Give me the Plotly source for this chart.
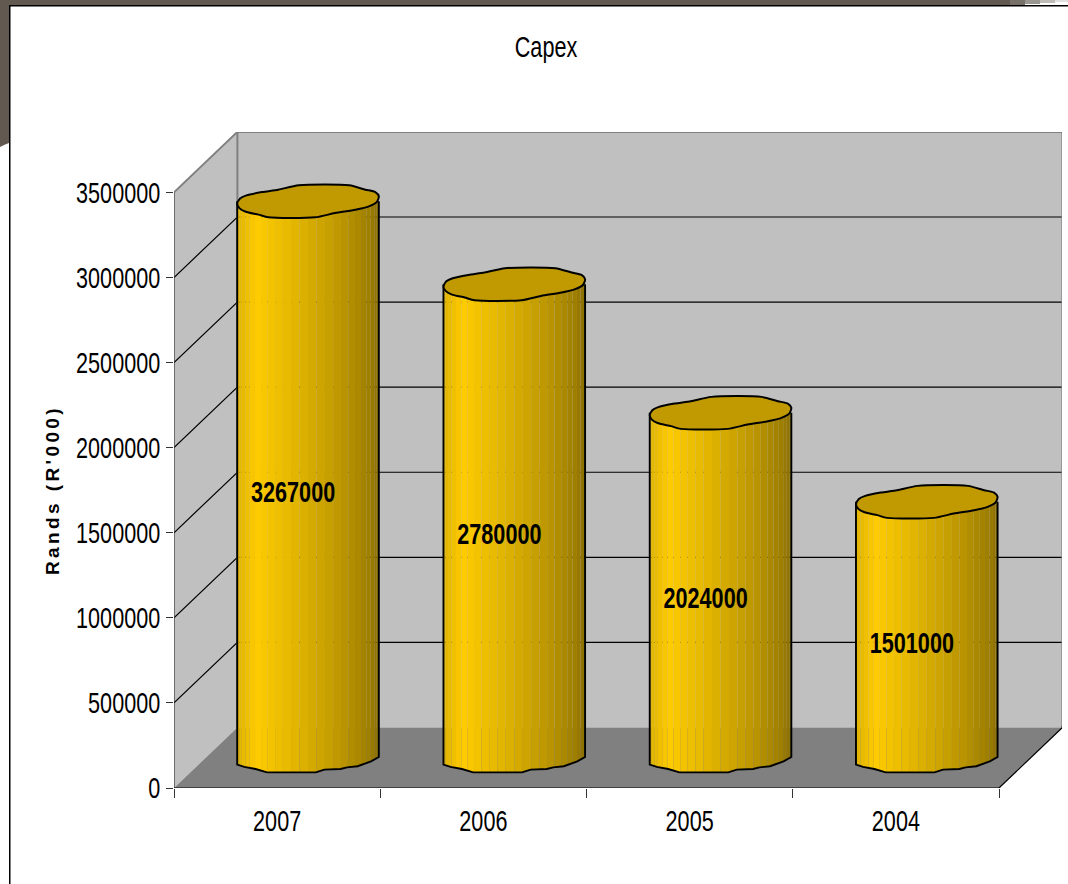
import numpy as np
import plotly.graph_objects as go

# ---- chart data -------------------------------------------------------
years = ["2007", "2006", "2005", "2004"]
capex = [3267000, 2780000, 2024000, 1501000]
y_ticks = [0, 500000, 1000000, 1500000, 2000000, 2500000, 3000000, 3500000]
title_text = "Capex"
y_title = "Rands (R'000)"

# ---- geometry of the pseudo-3D box ------------------------------------
W, H = 1068, 884
L, R, T, B = 174, 1062, 132, 788          # plot area in page pixels
PX_X = 1 / 206.25                         # category units per pixel
PX_Y = 3500000 / 595.6                    # value units per pixel
DEPTH_X, DEPTH_Y = 63.4 * PX_X, 60.5 * PX_Y
YMAX = y_ticks[-1]
N = len(years)

FONT = "Liberation Sans, Arial, sans-serif"
FSIZE = 29
BLACK = "#000000"
fig = go.Figure()


def poly(xs, ys, fill, line=None, width=0, shape="linear"):
    fig.add_trace(go.Scatter(
        x=xs, y=ys, mode="lines", fill="toself", fillcolor=fill,
        line=dict(color=line or fill, width=width, shape=shape, smoothing=0.7), hoverinfo="skip",
        showlegend=False, cliponaxis=False))


def path(xs, ys, color=BLACK, width=1.0, shape="linear"):
    fig.add_trace(go.Scatter(
        x=xs, y=ys, mode="lines", line=dict(color=color, width=width, shape=shape, smoothing=0.5),
        hoverinfo="skip", showlegend=False, cliponaxis=False))


# walls and floor
poly([0, DEPTH_X, DEPTH_X, 0, 0], [0, DEPTH_Y, YMAX + DEPTH_Y, YMAX, 0], "#c0c0c0")
poly([DEPTH_X, N + DEPTH_X, N + DEPTH_X, DEPTH_X, DEPTH_X],
     [DEPTH_Y, DEPTH_Y, YMAX + DEPTH_Y, YMAX + DEPTH_Y, DEPTH_Y], "#c0c0c0")
poly([0, N, N + DEPTH_X, DEPTH_X, 0], [0, 0, DEPTH_Y, DEPTH_Y, 0], "#808080")

# gridlines on both walls
for v in y_ticks[1:-1]:
    path([0, DEPTH_X, N + DEPTH_X], [v, v + DEPTH_Y, v + DEPTH_Y], BLACK, 1.2)

# wall outlines
path([0, DEPTH_X, N + DEPTH_X, N + DEPTH_X], [YMAX, YMAX + DEPTH_Y, YMAX + DEPTH_Y, DEPTH_Y], "#808080", 2)
path([DEPTH_X, DEPTH_X], [DEPTH_Y, YMAX + DEPTH_Y], "#808080", 2)
path([0, 0], [0, YMAX], "#333333", 1.2)
path([0, N, N + DEPTH_X, N + DEPTH_X], [0, 0, DEPTH_Y, DEPTH_Y + 2 * PX_Y], BLACK, 1.2)

# cylinders: faceted outlines, normalised to half width / half height
A = 70.8 * PX_X
Bh = 16.0 * PX_Y
CENTER = [i + 0.5 + DEPTH_X / 2 - 0.8 * PX_X for i in range(N)]
BASE = 30.7 * PX_Y

TOP_UP_U = np.array([-1, -.96, -.87, -.65, -.42, -.13, .58, .81, .95, 1])
TOP_UP_V = np.array([-.15, .18, .375, .58, .73, 1, 1, .73, .58, .32])
TOP_LO_U = np.array([-1, -.97, -.88, -.70, -.56, .10, .38, .67, .86, .97, 1])
TOP_LO_V = np.array([-.15, -.42, -.65, -.83, -1, -1, -.73, -.52, -.31, -.05, .32])
BOT_U = np.array([-1, -.9, -.74, -.58, .11, .23, .46, .55, .7, .89, 1])
BOT_V = np.array([-.46, -.6, -.73, -.94, -.94, -.77, -.73, -.63, -.56, -.25, .02])


def shade(u):
    stops = [-1, -0.72, -0.1, 0.45, 0.85, 1]
    reds = [224, 255, 222, 190, 160, 138]
    greens = [180, 204, 178, 152, 128, 110]
    return "rgb(%d,%d,0)" % (np.interp(u, stops, reds), np.interp(u, stops, greens))


strips = 26
edges = np.sin(np.linspace(-np.pi / 2, np.pi / 2, strips + 1))
for k in range(strips):
    u0, u1 = edges[k], edges[k + 1]
    inner = BOT_U[(BOT_U > u0) & (BOT_U < u1)]
    us = np.concatenate([[u0], inner, [u1]])
    vs = np.interp(us, BOT_U, BOT_V)
    xs, ys = [], []
    for c, v in zip(CENTER, capex):
        xs += list(c + A * us) + [c + A * us[-1], c + A * u0, c + A * u0, None]
        ys += list(BASE + Bh * vs) + [BASE + v, BASE + v, BASE + Bh * vs[0], None]
    poly(xs, ys, shade((u0 + u1) / 2))

for c, v in zip(CENTER, capex):
    # sides and bottom edge
    xs = [c - A] + list(c + A * BOT_U) + [c + A]
    ys = [BASE + v] + list(BASE + Bh * BOT_V) + [BASE + v]
    path(xs, ys, BLACK, 1.9)
    # top end
    rx = list(TOP_UP_U) + list(TOP_LO_U[::-1][1:])
    ry = list(TOP_UP_V) + list(TOP_LO_V[::-1][1:])
    poly([c + A * u for u in rx], [BASE + v + Bh * w for w in ry], "#c09a00", BLACK, 2, "spline")

# value labels
fig.add_trace(go.Scatter(
    x=[i + 0.5 + 16 * PX_X for i in range(N)],
    y=[v / 2 + 15 * PX_Y for v in capex],
    text=[str(v) for v in capex], mode="text",
    textfont=dict(family=FONT, size=FSIZE, color=BLACK, weight="bold"),
    hoverinfo="skip", showlegend=False, cliponaxis=False))


# page frame decoration, in page pixels
def fx(p):
    return (p - L) / (R - L)


def fy(p):
    return (B - p) / (B - T)


def rect(x0, y0, x1, y1, color):
    return dict(type="rect", xref="paper", yref="paper", x0=fx(x0), x1=fx(x1),
                y0=fy(y0), y1=fy(y1), fillcolor=color, line=dict(width=0), layer="below")


frame = "#625950"
shapes = [
    rect(0, 0, 1010, 5, frame), rect(1010, 0, 1025, 5, "#78716a"),
    rect(1025, 0, 1040, 4, "#9a9690"), rect(1040, 0, 1055, 3, "#c0bdb9"),
    rect(1055, 0, 1068, 2, "#e2e0de"),
    rect(0, 5, 1068, 6.5, BLACK),
    dict(type="path", xref="paper", yref="paper", layer="below", fillcolor=frame,
         line=dict(width=0),
         path="M %f,%f L %f,%f L %f,%f L %f,%f L %f,%f Z" % (
             fx(0), fy(0), fx(9), fy(0), fx(9), fy(143), fx(4), fy(145), fx(0), fy(147))),
    rect(9, 5, 10.5, H, BLACK),
]

fig.update_layout(
    width=W, height=H, margin=dict(l=L, r=W - R, t=T, b=H - B),
    paper_bgcolor="white", plot_bgcolor="white", showlegend=False,
    font=dict(family=FONT, size=FSIZE, color=BLACK), shapes=shapes,
    title=dict(text=title_text, x=546 / W, xanchor="center", y=1 - 47 / H, yanchor="middle",
               font=dict(family=FONT, size=FSIZE, color=BLACK)),
    xaxis=dict(range=[0, (R - L) * PX_X], tickmode="array",
               tickvals=[i + 0.5 for i in range(N)], ticktext=years,
               ticks="", showgrid=False, zeroline=False, showline=False,
               ticklabelstandoff=13,
               minor=dict(tickmode="array", tickvals=list(range(N + 1)), ticks="outside",
                          ticklen=9, tickcolor="#333333", tickwidth=1, showgrid=False)),
    yaxis=dict(range=[0, (B - T) * PX_Y], tickmode="array", tickvals=y_ticks,
               ticktext=[str(v) for v in y_ticks], ticks="outside", ticklen=7,
               tickcolor="#333333", tickwidth=1, showgrid=False, zeroline=False, showline=False),
    annotations=[dict(text=y_title, xref="paper", yref="paper", x=fx(53), y=fy(490),
                      xanchor="center", yanchor="middle", textangle=-90, showarrow=False,
                      font=dict(family=FONT, size=19, color=BLACK, weight="bold"))],
)

post = """
document.documentElement.style.overflow='hidden';
document.body.style.margin='0';
document.querySelectorAll('.annotation-text').forEach(function(t){t.style.letterSpacing='3.4px';});
document.querySelectorAll('.xtick text, .ytick text, .gtitle, .textpoint text').forEach(function(t){
  var x=t.getAttribute('x')||'0', tr=t.getAttribute('transform')||'';
  t.setAttribute('transform', tr+' translate('+x+',0) scale(0.745,1) translate('+(-x)+',0)');
});
"""
fig.write_html("out.html", post_script=post, config=dict(displayModeBar=False))
